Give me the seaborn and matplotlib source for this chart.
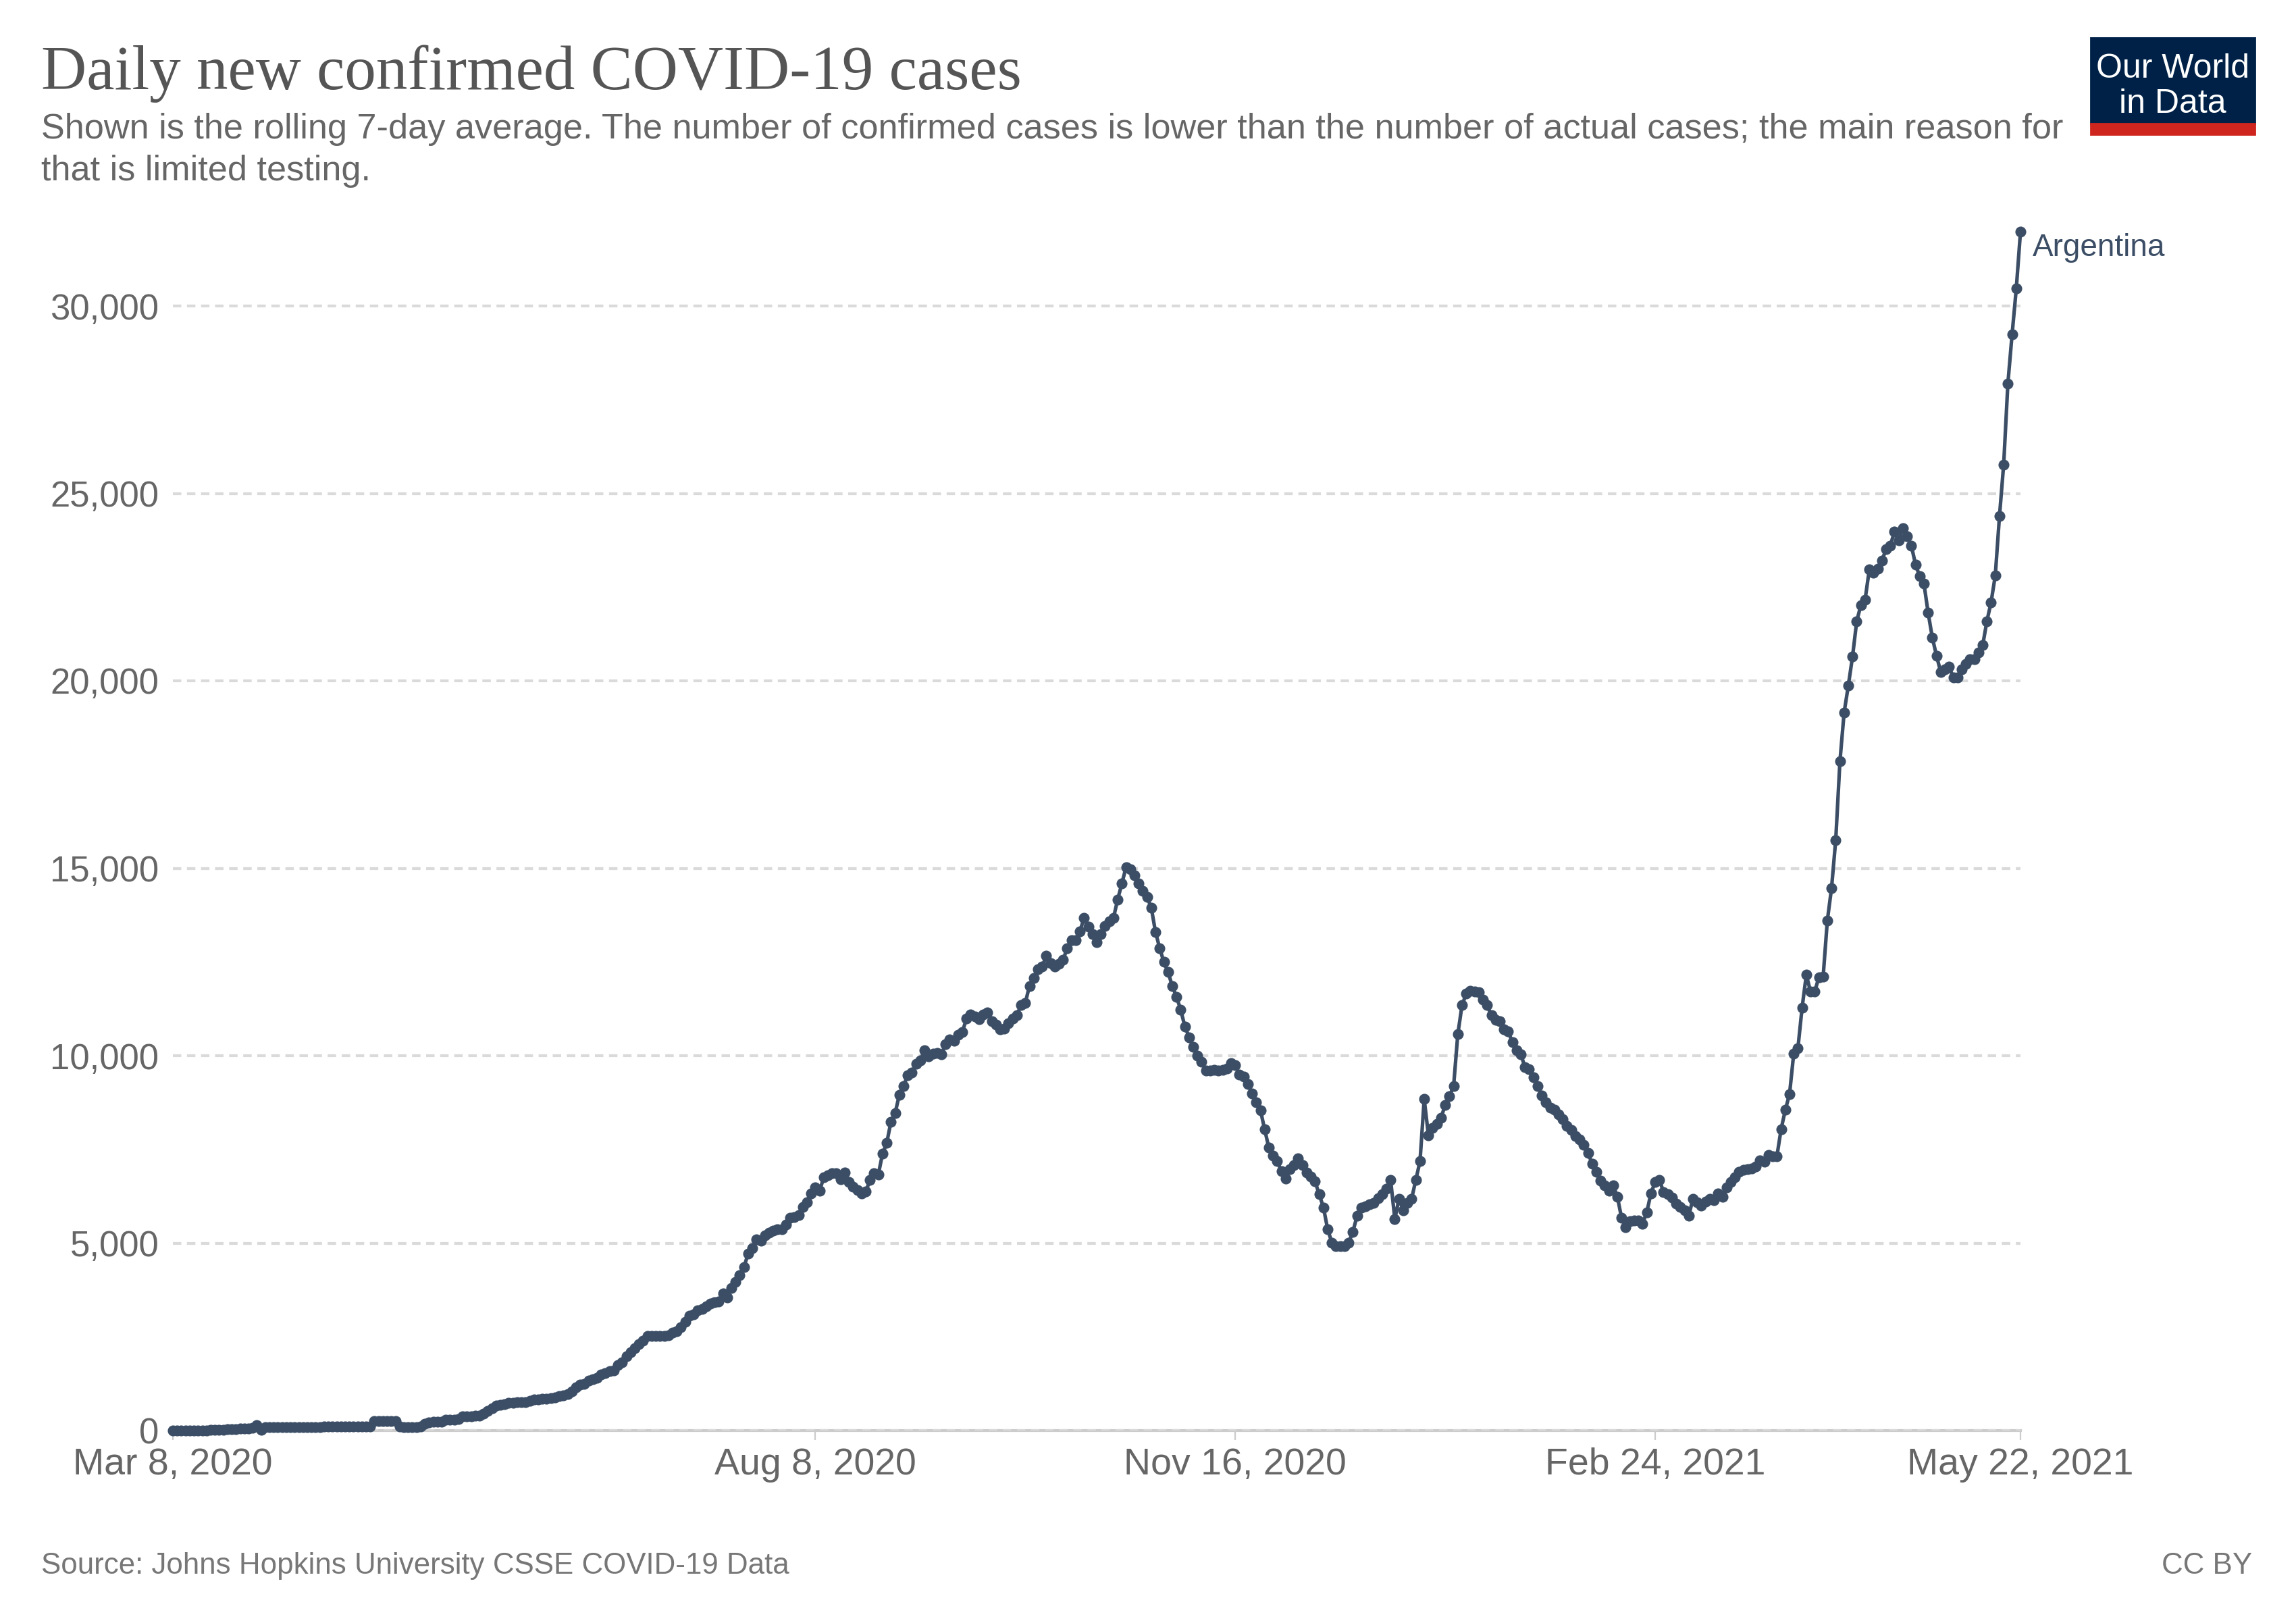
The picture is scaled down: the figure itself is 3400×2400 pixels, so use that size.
import matplotlib
matplotlib.use("Agg")
import matplotlib.pyplot as plt
from matplotlib.patches import Rectangle
from matplotlib.ticker import FuncFormatter
import pandas as pd
import seaborn as sns

# daily new confirmed cases, 7-day rolling average, Argentina
start_date = "2020-03-08"
country = "Argentina"

mar_2020 = [1, 1, 2, 2, 3, 4, 5, 7, 9, 11, 14, 18, 25, 30, 38, 45, 50, 55, 60, 65,
            140, 20, 82, 84]
apr_2020 = [86, 88, 90, 90, 92, 94, 95, 96, 97, 98, 98, 99, 100, 100, 101, 102, 102,
            103, 104, 104, 105, 106, 108, 110, 245, 250, 255, 258, 260, 252]
may_2020 = [100, 98, 96, 95, 97, 100, 180, 225, 230, 235, 238, 285, 290, 295, 300,
            370, 380, 385, 390, 395, 450, 530, 600, 660, 685, 700, 745, 745, 750,
            750, 760]
jun_2020 = [800, 835, 835, 840, 850, 860, 880, 925, 930, 980, 1045, 1150, 1225, 1250,
            1330, 1375, 1400, 1496, 1530, 1586, 1600, 1750, 1820, 1990, 2090, 2200,
            2306, 2400, 2517, 2520]
jul_2020 = [2517, 2515, 2520, 2540, 2607, 2640, 2760, 2900, 3057, 3100, 3200, 3238,
            3320, 3388, 3420, 3442, 3658, 3550, 3808, 3958, 4139, 4361, 4721, 4860,
            5100, 5070, 5200, 5280, 5330, 5370, 5370]
aug_2020 = [5500, 5670, 5700, 5750, 5970, 6090, 6330, 6480, 6390, 6750, 6810, 6860,
            6860, 6700, 6880, 6630, 6500, 6420, 6316, 6370, 6680, 6860, 6830, 7385,
            7667, 8237, 8466, 8958, 9187, 9482, 9550]
sep_2020 = [9776, 9880, 10136, 9987, 10050, 10070, 10040, 10300, 10432, 10400, 10563,
            10630, 10990, 11100, 11050, 10980, 11100, 11153, 10924, 10830, 10707,
            10720, 10870, 10990, 11090, 11349, 11410, 11861, 12070, 12300]
oct_2020 = [12370, 12660, 12463, 12370, 12450, 12560, 12870, 13086, 13086, 13315,
            13675, 13446, 13250, 13020, 13250, 13460, 13590, 13675, 14168, 14593,
            15032, 14970, 14808, 14593, 14396, 14230, 13951, 13302, 12870, 12499,
            12228]
nov_2020 = [11859, 11574, 11226, 10781, 10495, 10226, 10000, 9841, 9610, 9610, 9620,
            9610, 9620, 9650, 9803, 9740, 9495, 9450, 9240, 8994, 8763, 8547, 8032,
            7547, 7338, 7185, 6914, 6721, 6970, 7080]
dec_2020 = [7262, 7080, 6876, 6770, 6646, 6298, 5952, 5375, 5013, 4912, 4912, 4920,
            5013, 5298, 5721, 5952, 5990, 6030, 6067, 6200, 6298, 6453, 6684, 5644,
            6183, 5875, 6067, 6183, 6684, 7185, 8840]
jan_2021 = [7877, 8069, 8185, 8340, 8686, 8916, 9187, 10572, 11343, 11650, 11727,
            11720, 11700, 11497, 11343, 11073, 10960, 10920, 10704, 10650, 10356,
            10145, 10040, 9695, 9635, 9425, 9184, 8944, 8764, 8614, 8554]
feb_2021 = [8433, 8313, 8133, 8013, 7863, 7773, 7622, 7412, 7112, 6902, 6662, 6542,
            6391, 6542, 6241, 5670, 5430, 5580, 5600, 5610, 5520, 5820, 6331, 6631,
            6691, 6361, 6301, 6211]
mar_2021 = [6061, 5971, 5881, 5730, 6181, 6091, 6001, 6100, 6181, 6151, 6331, 6241,
            6481, 6631, 6751, 6902, 6962, 6980, 6992, 7052, 7202, 7172, 7352, 7322,
            7322, 8043, 8554, 8974, 10055, 10205, 11286]
apr_2021 = [12158, 11707, 11707, 12098, 12100, 13600, 14465, 15751, 17847, 19153,
            19871, 20644, 21590, 22022, 22168, 22968, 22876, 23000, 23199, 23520,
            23610, 23981, 23750, 24070, 23850, 23610, 23107, 22785, 22600, 21821]
may_2021 = [21157, 20671, 20238, 20300, 20370, 20090, 20090, 20300, 20450, 20579,
            20579, 20750, 20947, 21590, 22096, 22813, 24394, 25772, 27933, 29239,
            30461, 31978]

tick_dates = ["2020-03-08", "2020-08-08", "2020-11-16", "2021-02-24", "2021-05-22"]
tick_labels = ["Mar 8, 2020", "Aug 8, 2020", "Nov 16, 2020", "Feb 24, 2021", "May 22, 2021"]
y_ticks = [0, 5000, 10000, 15000, 20000, 25000, 30000]

title = "Daily new confirmed COVID-19 cases"
subtitle_1 = ("Shown is the rolling 7-day average. The number of confirmed cases is lower "
              "than the number of actual cases; the main reason for")
subtitle_2 = "that is limited testing."
source = "Source: Johns Hopkins University CSSE COVID-19 Data"
licence = "CC BY"

LINE = "#3c4e66"
GREY_TXT = "#666666"

cases = (mar_2020 + apr_2020 + may_2020 + jun_2020 + jul_2020 + aug_2020 + sep_2020
         + oct_2020 + nov_2020 + dec_2020 + jan_2021 + feb_2021 + mar_2021
         + apr_2021 + may_2021)
df = pd.DataFrame({"date": pd.date_range(start_date, periods=len(cases), freq="D"),
                   "cases": cases})

sns.set_theme(style="white")
plt.rcParams["font.family"] = ["Liberation Sans", "DejaVu Sans"]

fig = plt.figure(figsize=(17, 12), dpi=200)
ax = fig.add_axes([0.0753, 0.1175, 0.8047, 0.74])

sns.lineplot(data=df, x="date", y="cases", ax=ax, color=LINE, linewidth=1.9,
             marker="o", markersize=5.8, markeredgewidth=0, clip_on=False, zorder=3)

ax.set_xlim(df["date"].iloc[0], df["date"].iloc[-1])
ax.set_ylim(0, 32000)
ax.set_xlabel("")
ax.set_ylabel("")

# y axis: dashed grid, no ticks
ax.set_yticks(y_ticks)
ax.yaxis.set_major_formatter(FuncFormatter(lambda v, p: f"{int(v):,}"))
ax.tick_params(axis="y", length=0, pad=7.5, labelsize=19, labelcolor=GREY_TXT)
ax.grid(axis="y", color="#dadada", linestyle=(0, (3, 2)), linewidth=1.5)
ax.grid(axis="x", visible=False)
ax.set_axisbelow(True)

# x axis: light baseline with small ticks
ax.set_xticks(pd.to_datetime(tick_dates))
ax.set_xticklabels(tick_labels)
ax.tick_params(axis="x", length=5, width=0.8, color="#cccccc", pad=4,
               labelsize=20, labelcolor=GREY_TXT, bottom=True)

for side in ["top", "right", "left"]:
    ax.spines[side].set_visible(False)
ax.spines["bottom"].set_color("#cccccc")
ax.spines["bottom"].set_linewidth(1.5)
ax.spines["bottom"].set_zorder(0.5)

ax.annotate(country, xy=(df["date"].iloc[-1], df["cases"].iloc[-1]),
            xytext=(6.5, -8.6), textcoords="offset points",
            va="center", ha="left", fontsize=16.5, color=LINE)

# header
fig.text(0.018, 0.945, title, fontfamily=["Liberation Serif", "DejaVu Serif"],
         fontsize=33.5, color="#555555", va="baseline")
fig.text(0.018, 0.9146, subtitle_1, fontsize=18.8, color=GREY_TXT, va="baseline")
fig.text(0.018, 0.8887, subtitle_2, fontsize=18.8, color=GREY_TXT, va="baseline")

# logo
fig.patches.append(Rectangle((0.9106, 0.92375), 0.0715, 0.0529,
                             transform=fig.transFigure, color="#002147"))
fig.patches.append(Rectangle((0.9106, 0.9171), 0.0715, 0.00667,
                             transform=fig.transFigure, color="#ce261e"))
fig.text(0.9464, 0.952, "Our World", ha="center", va="baseline",
         fontsize=18, color="white")
fig.text(0.9464, 0.9304, "in Data", ha="center", va="baseline",
         fontsize=18, color="white")

# footer
fig.text(0.018, 0.0292, source, fontsize=15.8, color="#777777", va="baseline")
fig.text(0.981, 0.0292, licence, fontsize=15.8, color="#777777", va="baseline", ha="right")

fig.savefig("out.png", dpi=200)
